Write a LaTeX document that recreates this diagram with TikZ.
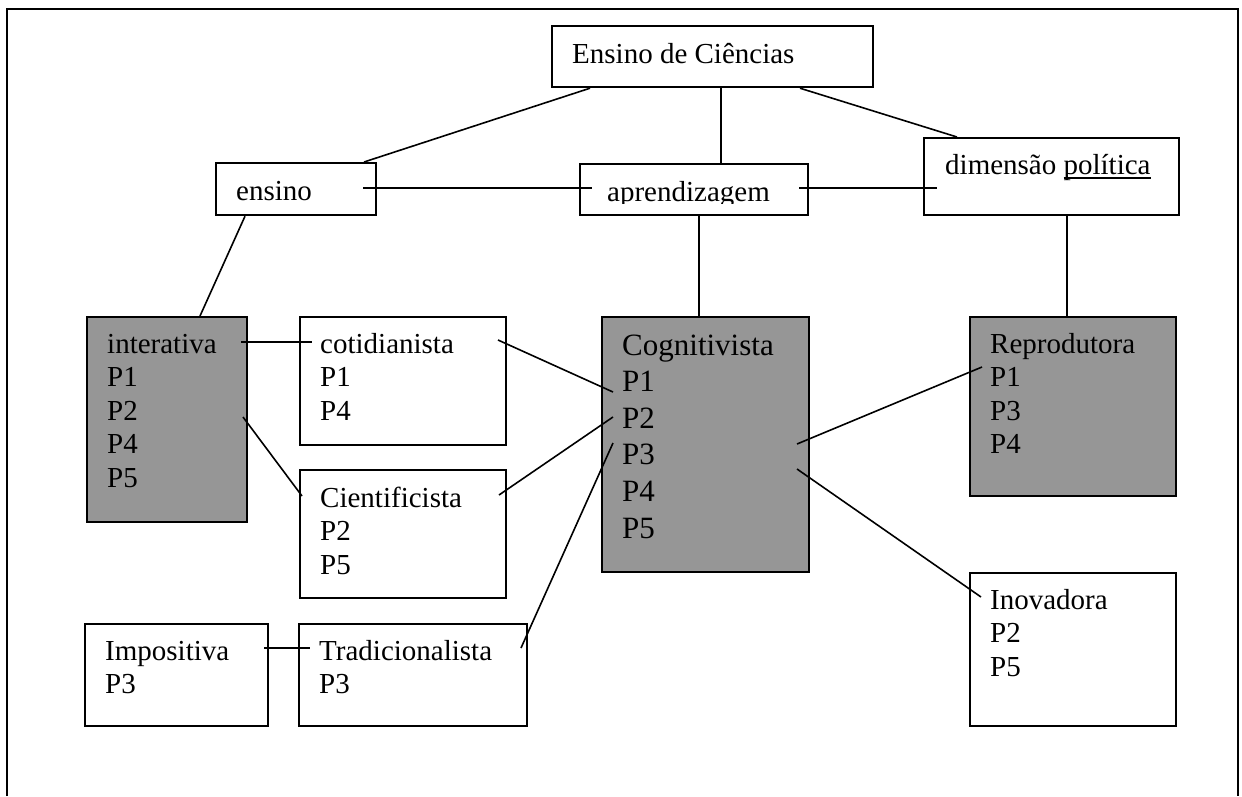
\documentclass[tikz,border=0pt]{standalone}
\usepackage{fontspec}
\setmainfont{Liberation Serif}
\usetikzlibrary{calc}
\definecolor{boxgrey}{RGB}{150,150,150}
\newcommand\bodyfont{\fontsize{29}{33.5}\selectfont}
\newcommand\cogfont{\fontsize{31}{36.6}\selectfont}
\newcommand\boxlines[1]{\begin{tabular}[t]{@{}l@{}}#1\end{tabular}}
\newcommand\wordul[1]{\setbox0\hbox{#1}\rlap{\raisebox{-4.5pt}{\rule{\wd0}{1.8pt}}}\box0}
\tikzset{
  box/.style n args={2}{draw, line width=2.2pt, anchor=north west, inner sep=0pt,
    minimum width=#1, minimum height=#2},
  greybox/.style={fill=boxgrey},
  txt/.style={anchor=base west, inner sep=0pt, font=\bodyfont},
  link/.style={line width=1.6pt},
  frame/.style={line width=1.8pt}
}
\begin{document}
\begin{tikzpicture}[x=1pt,y=-1pt]
\useasboundingbox (0,0) rectangle (1242,796);
\draw[frame] (7,796) -- (7,9) -- (1238,9) -- (1238,796);

% boxes
\node[box={321pt}{61pt}] (ec) at (551,25) {};
\node[box={160pt}{52pt}] (ens) at (215,162) {};
\node[box={228pt}{51pt}] (apr) at (579,163) {};
\node[box={255pt}{77pt}] (dim) at (923,137) {};
\node[box={160pt}{205pt}, greybox] (int) at (86,316) {};
\node[box={206pt}{128pt}] (cot) at (299,316) {};
\node[box={207pt}{255pt}, greybox] (cog) at (601,316) {};
\node[box={206pt}{179pt}, greybox] (rep) at (969,316) {};
\node[box={206pt}{128pt}] (cie) at (299,469) {};
\node[box={183pt}{102pt}] (imp) at (84,623) {};
\node[box={228pt}{102pt}] (tra) at (298,623) {};
\node[box={206pt}{153pt}] (ino) at (969,572) {};

% connectors
\draw[link] ([xshift=39pt]ec.south west) -- ([xshift=149pt]ens.north west);
\draw[link] ([xshift=170pt]ec.south west) -- ([xshift=142pt]apr.north west);
\draw[link] ([xshift=249pt]ec.south west) -- ([xshift=34pt]dim.north west);
\draw[link] ([shift={(148,26)}]ens.north west) -- ([shift={(13,25)}]apr.north west);
\draw[link] ([shift={(220,25)}]apr.north west) -- ([shift={(14,51)}]dim.north west);
\draw[link] ([xshift=30pt]ens.south west) -- ([xshift=114pt]int.north west);
\draw[link] ([xshift=120pt]apr.south west) -- ([xshift=98pt]cog.north west);
\draw[link] ([xshift=144pt]dim.south west) -- ([xshift=98pt]rep.north west);
\draw[link] ([shift={(155,26)}]int.north west) -- ([shift={(13,26)}]cot.north west);
\draw[link] ([shift={(157,101)}]int.north west) -- ([shift={(3,27)}]cie.north west);
\draw[link] ([shift={(199,24)}]cot.north west) -- ([shift={(12,76)}]cog.north west);
\draw[link] ([shift={(200,26)}]cie.north west) -- ([shift={(12,101)}]cog.north west);
\draw[link] ([shift={(223,25)}]tra.north west) -- ([shift={(12,127)}]cog.north west);
\draw[link] ([shift={(180,25)}]imp.north west) -- ([shift={(12,25)}]tra.north west);
\draw[link] ([shift={(196,128)}]cog.north west) -- ([shift={(13,51)}]rep.north west);
\draw[link] ([shift={(196,153)}]cog.north west) -- ([shift={(12,25)}]ino.north west);

% texts
\node[txt] (ect) at ([shift={(21,38)}]ec.north west) {Ensino de Ciências};
\node[txt] (enst) at ([shift={(21,38)}]ens.north west) {ensino};
\begin{scope}
  \clip (apr.north west) rectangle ([shift={(228,40)}]apr.north west);
  \node[txt] (aprt) at ([shift={(28,38)}]apr.north west) {aprendizagem};
\end{scope}
\node[txt] (dimt) at ([shift={(22,37)}]dim.north west) {dimensão \wordul{política}};
\node[txt] (intt) at ([shift={(21,37)}]int.north west) {\boxlines{interativa\\P1\\P2\\P4\\P5}};
\node[txt] (cott) at ([shift={(21,37)}]cot.north west) {\boxlines{cotidianista\\P1\\P4}};
\node[txt, font=\cogfont] (cogt) at ([shift={(21,39)}]cog.north west) {\boxlines{Cognitivista\\P1\\P2\\P3\\P4\\P5}};
\node[txt] (rept) at ([shift={(21,37)}]rep.north west) {\boxlines{Reprodutora\\P1\\P3\\P4}};
\node[txt] (ciet) at ([shift={(21,38)}]cie.north west) {\boxlines{Cientificista\\P2\\P5}};
\node[txt] (impt) at ([shift={(21,37)}]imp.north west) {\boxlines{Impositiva\\P3}};
\node[txt] (trat) at ([shift={(21,37)}]tra.north west) {\boxlines{Tradicionalista\\P3}};
\node[txt] (inot) at ([shift={(21,37)}]ino.north west) {\boxlines{Inovadora\\P2\\P5}};
\end{tikzpicture}
\end{document}
